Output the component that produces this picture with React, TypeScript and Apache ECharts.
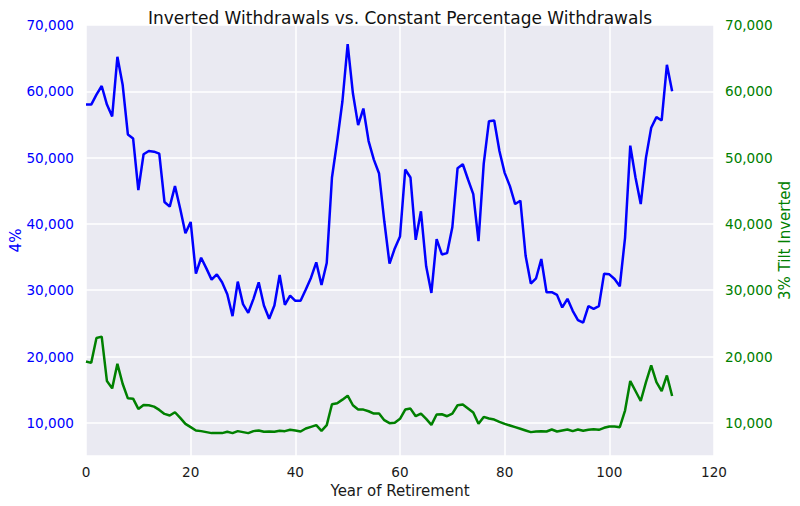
import React, { useEffect, useRef } from "react";
import * as echarts from "echarts";

const titleText = "Inverted Withdrawals vs. Constant Percentage Withdrawals";
const xAxisName = "Year of Retirement";
const leftAxisName = "4%";
const rightAxisName = "3% Tilt Inverted";

const xTicks = [0, 20, 40, 60, 80, 100, 120];
const yTicks = [10000, 20000, 30000, 40000, 50000, 60000, 70000];

const constantPct = [
  58000, 58000, 59500, 60800, 58000, 56200, 65200, 61000, 53500, 52900,
  45100, 50500, 51000, 50900, 50600, 43300, 42600, 45700, 42300, 38600,
  40300, 32500, 34900, 33300, 31600, 32400, 31200, 29400, 26100, 31300,
  27900, 26600, 28700, 31200, 27700, 25700, 27700, 32300, 27800, 29200,
  28400, 28400, 30100, 31900, 34200, 30800, 34100, 47000, 52500, 58500,
  67100, 59700, 54900, 57400, 52500, 49700, 47600, 40400, 34000, 36300,
  38100, 48200, 47000, 37600, 41900, 33600, 29600, 37700, 35400, 35600,
  39500, 48400, 49000, 46700, 44500, 37400, 49100, 55500, 55600, 51000,
  47700, 45700, 43000, 43500, 35200, 31000, 31800, 34700, 29700, 29700,
  29300, 27400, 28700, 26900, 25500, 25100, 27600, 27200, 27600, 32500,
  32400, 31700, 30600, 37900, 51800, 47000, 43000, 50000, 54500, 56100,
  55600, 64000, 60000,
];

const tiltInverted = [
  19250, 19050, 22800, 23000, 16300, 15200, 18900, 15900, 13700, 13650,
  12100, 12700, 12650, 12450, 11950, 11350, 11100, 11600, 10750, 9850,
  9350, 8850, 8750, 8600, 8450, 8450, 8450, 8650, 8450, 8750,
  8600, 8450, 8750, 8850, 8650, 8700, 8650, 8800, 8750, 8950,
  8850, 8700, 9150, 9400, 9650, 8800, 9650, 12800, 12950, 13500,
  14100, 12650, 12000, 12000, 11750, 11400, 11400, 10400, 9950, 10000,
  10600, 12000, 12150, 11000, 11400, 10600, 9700, 11250, 11300, 11000,
  11400, 12650, 12750, 12150, 11550, 9850, 10900, 10650, 10500, 10150,
  9850, 9600, 9350, 9100, 8850, 8600, 8700, 8750, 8700, 9000,
  8700, 8850, 9000, 8750, 9000, 8800, 8950, 9050, 8950, 9250,
  9450, 9450, 9350, 11850, 16300, 14800, 13300, 16150, 18650, 16150,
  14800, 17150, 14050,
];

const FONT = "DejaVu Sans";

const fmt = (v: number) =>
  yTicks.includes(v) ? v.toLocaleString("en-US") : "";

export default function App() {
  const ref = useRef<HTMLDivElement>(null);
  useEffect(() => {
    if (!ref.current) return;
    const chart = echarts.init(ref.current, null, { renderer: "svg" });
    const yMin = 5000;
    const yMax = yTicks[yTicks.length - 1];
    const baseY = {
      type: "value",
      min: yMin,
      max: yMax,
      splitNumber: 7,
      nameLocation: "middle",
      nameRotate: 90,
      nameMoveOverlap: false,
      axisLine: { show: false },
      axisTick: { show: false },
    };
    chart.setOption({
      animation: false,
      backgroundColor: "#ffffff",
      textStyle: { fontFamily: FONT },
      title: {
        text: titleText,
        left: "center",
        top: 4,
        textStyle: { fontFamily: FONT, fontSize: 17, fontWeight: "normal", color: "#111111" },
      },
      grid: {
        left: 86,
        right: 86,
        top: 25,
        bottom: 50,
        containLabel: false,
        outerBoundsMode: "none",
        show: true,
        backgroundColor: "#EAEAF2",
        borderWidth: 0,
      },
      xAxis: {
        type: "value",
        min: xTicks[0],
        max: xTicks[xTicks.length - 1],
        interval: 20,
        name: xAxisName,
        nameLocation: "middle",
        nameMoveOverlap: false,
        nameGap: 27,
        nameTextStyle: { fontFamily: FONT, fontSize: 15, color: "#1a1a1a" },
        axisLine: { show: false },
        axisTick: { show: false },
        axisLabel: { fontFamily: FONT, fontSize: 13.6, color: "#1a1a1a", margin: 9 },
        splitLine: { show: true, lineStyle: { color: "#ffffff", width: 1.5 } },
      },
      yAxis: [
        {
          ...baseY,
          position: "left",
          name: leftAxisName,
          nameGap: 63,
          nameTextStyle: { fontFamily: FONT, fontSize: 15, color: "#0000ff" },
          axisLabel: { fontFamily: FONT, fontSize: 13.6, color: "#0000ff", margin: 12, formatter: fmt },
          splitLine: { show: true, lineStyle: { color: "#ffffff", width: 1.5 } },
        },
        {
          ...baseY,
          position: "right",
          name: rightAxisName,
          nameGap: 63,
          nameTextStyle: { fontFamily: FONT, fontSize: 15, color: "#008000" },
          axisLabel: { fontFamily: FONT, fontSize: 13.6, color: "#008000", margin: 11, formatter: fmt },
          splitLine: { show: false },
        },
      ],
      series: [
        {
          type: "line",
          yAxisIndex: 0,
          data: constantPct.map((v, i) => [i, v]),
          showSymbol: false,
          lineStyle: { color: "#0000ff", width: 2.5 },
          itemStyle: { color: "#0000ff" },
        },
        {
          type: "line",
          yAxisIndex: 1,
          data: tiltInverted.map((v, i) => [i, v]),
          showSymbol: false,
          lineStyle: { color: "#008000", width: 2.5 },
          itemStyle: { color: "#008000" },
        },
      ],
    });
    return () => chart.dispose();
  }, []);
  return (
    <div
      ref={ref}
      style={{ position: "fixed", left: 0, top: 0, width: 800, height: 506 }}
    />
  );
}
